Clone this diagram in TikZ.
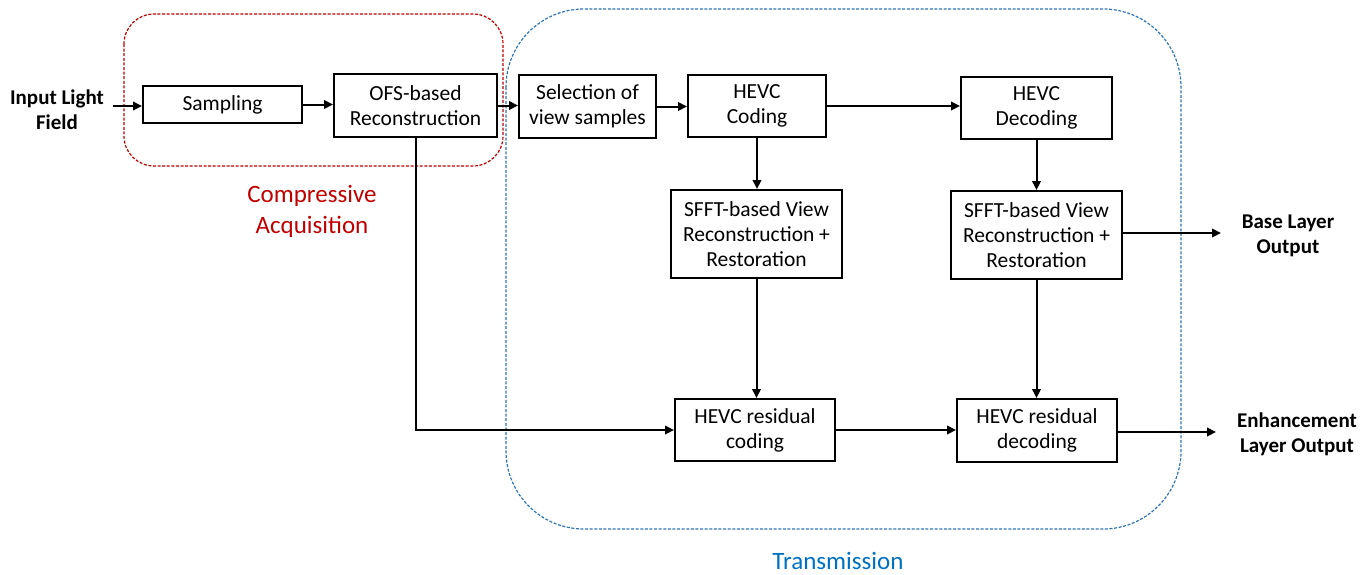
\documentclass[tikz,border=0pt]{standalone}
\usepackage{fontspec}
\setmainfont{Carlito}
\usetikzlibrary{arrows.meta}
\definecolor{accred}{RGB}{192,0,0}
\definecolor{accblue}{RGB}{0,112,192}
\definecolor{dashblue}{RGB}{46,117,182}
\begin{document}
\begin{tikzpicture}[x=1pt,y=-1pt,
  every node/.style={font=\fontsize{21.5}{25}\selectfont},
  blk/.style={draw, line width=2pt, align=center, inner sep=2pt},
  arr/.style={line width=2pt, -{Triangle[length=9pt,width=8.5pt]}},
  lbl/.style={align=center, font=\fontsize{21}{25}\selectfont\bfseries},
  grp/.style={line width=1.2pt, dash pattern=on 3pt off 1.6pt}]
\useasboundingbox (0,0) rectangle (1364,574);
% groups
\draw[grp, draw=accred, rounded corners=30pt] (124,14) rectangle (503,166);
\draw[grp, draw=dashblue, rounded corners=78pt] (506,9) rectangle (1181,529);
\node[text=accred, align=center, font=\fontsize{25}{31}\selectfont] (comp) at (312,211.5) {Compressive\\Acquisition};
\node[text=accblue, font=\fontsize{25}{31}\selectfont] (trans) at (838,561) {Transmission};
% blocks
\node[blk, minimum width=159pt, minimum height=37pt] (samp) at (222.5,104.5) {Sampling};
\node[blk, minimum width=163pt, minimum height=63pt] (ofs) at (415.5,105.5) {OFS-based\\Reconstruction};
\node[blk, minimum width=137pt, minimum height=63pt] (sel) at (587.5,106.5) {Selection of\\view samples};
\node[blk, minimum width=138pt, minimum height=62pt] (cod) at (757,106) {HEVC\\Coding};
\node[blk, minimum width=151pt, minimum height=62pt] (dec) at (1036.5,108) {HEVC\\Decoding};
\node[blk, minimum width=171pt, minimum height=88pt] (sfa) at (756.5,234) {SFFT-based View\\Reconstruction +\\Restoration};
\node[blk, minimum width=171pt, minimum height=88pt] (sfb) at (1036.5,235) {SFFT-based View\\Reconstruction +\\Restoration};
\node[blk, minimum width=160pt, minimum height=62pt] (rc) at (755,430) {HEVC residual\\coding};
\node[blk, minimum width=160pt, minimum height=63pt] (rd) at (1037,430.5) {HEVC residual\\decoding};
% labels
\node[lbl] (inp) at (57,110) {Input Light\\Field};
\node[lbl] (base) at (1288,235.5) {Base Layer\\Output};
\node[lbl] (enh) at (1297,434.5) {Enhancement\\Layer Output};
\coordinate (inpS) at (113,106);
\coordinate (baseE) at (1221,233);
\coordinate (enhE) at (1216,432);
% connectors
\draw[arr] (inpS) -- (inpS -| samp.west);
\draw[arr] (samp.east) -- (samp.east -| ofs.west);
\draw[arr] (ofs.east) -- (ofs.east -| sel.west);
\draw[arr] (sel.east) -- (sel.east -| cod.west);
\draw[arr] (cod.east) -- (cod.east -| dec.west);
\draw[arr] (cod.south) -- (cod.south |- sfa.north);
\draw[arr] (dec.south) -- (dec.south |- sfb.north);
\draw[arr] (sfa.south) -- (sfa.south |- rc.north);
\draw[arr] (sfb.south) -- (sfb.south |- rd.north);
\draw[arr] (ofs.south) |- (rc.west);
\draw[arr] (rc.east) -- (rc.east -| rd.west);
\draw[arr] (sfb.east |- baseE) -- (baseE);
\draw[arr] (rd.east |- enhE) -- (enhE);
\end{tikzpicture}
\end{document}
